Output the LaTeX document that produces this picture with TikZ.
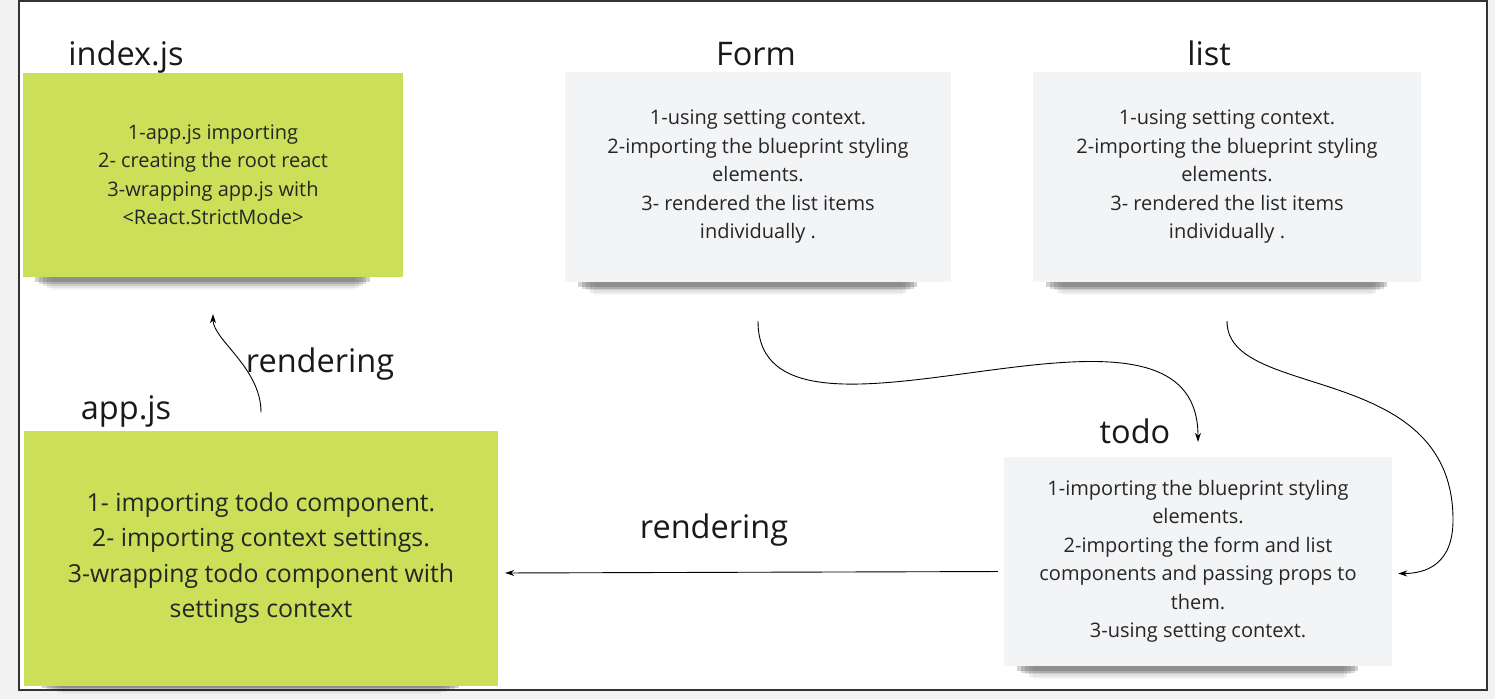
\documentclass[tikz,border=0pt]{standalone}
\usepackage{fontspec}
\setmainfont{Open Sans}
\usepackage{xcolor}
\usepackage{tikz}
\usetikzlibrary{arrows.meta, positioning, shadows}
\definecolor{stickygreen}{RGB}{204, 223, 88}
\definecolor{paperwhite}{RGB}{243, 244, 246}
\definecolor{canvasgray}{RGB}{242, 242, 242}
\definecolor{inkgray}{RGB}{38, 38, 38}

\tikzset{
    note/.style={inner sep=0pt, align=center, text=inkgray, font=\fontsize{20}{28.5}\selectfont,
        general shadow={fill=black, opacity=.04, shadow scale=.80, shadow xshift=-12pt, shadow yshift=-42pt},
        general shadow={fill=black, opacity=.07, shadow scale=.82, shadow xshift=-12pt, shadow yshift=-36pt},
        general shadow={fill=black, opacity=.10, shadow scale=.84, shadow xshift=-12pt, shadow yshift=-30pt},
        general shadow={fill=black, opacity=.14, shadow scale=.86, shadow xshift=-12pt, shadow yshift=-25pt},
        general shadow={fill=black, opacity=.18, shadow scale=.88, shadow xshift=-12pt, shadow yshift=-20pt}},
    greennote/.style={note, fill=stickygreen},
    graynote/.style={note, fill=paperwhite},
    title/.style={anchor=base, text=black!90, font=\fontsize{32.5}{38}\selectfont},
    link/.style={-{Stealth[length=9pt, width=6pt]}, line width=0.9pt, draw=black}
}

\begin{document}
\begin{tikzpicture}[x=1pt, y=-1pt]
    % Canvas and frame
    \fill[canvasgray] (0,0) rectangle (1495,699);
    \draw[line width=1.8pt, draw=black!80, fill=white] (19,1) rectangle (1487,690);

    % Sticky notes
    \node[greennote, minimum width=380pt, minimum height=204pt] (index) at (213,175)
        {1-app.js importing\\2- creating the root react\\3-wrapping app.js with\\ <React.StrictMode>};
    \node[graynote, minimum width=386pt, minimum height=210pt] (form) at (758,177)
        {1-using setting context.\\2-importing the blueprint styling\\elements.\\3- rendered the list items\\individually .};
    \node[graynote, minimum width=388pt, minimum height=210pt] (list) at (1227,177)
        {1-using setting context.\\2-importing the blueprint styling\\elements.\\3- rendered the list items\\individually .};
    \node[greennote, minimum width=474pt, minimum height=255pt, font=\fontsize{24.8}{35.3}\selectfont] (app) at (261,558)
        {1- importing todo component.\\2- importing context settings.\\3-wrapping todo component with\\settings context};
    \node[graynote, minimum width=388pt, minimum height=209pt] (todo) at (1198,561.5)
        {1-importing the blueprint styling\\elements.\\2-importing the form and list\\components and passing props to\\them.\\3-using setting context.};

    % Titles
    \node[title] (indextitle) at (126,65) {index.js};
    \node[title] (formtitle) at (756,65) {Form};
    \node[title] (listtitle) at (1209,65) {list};
    \node[title] (apptitle) at (126,419) {app.js};
    \node[title] (todotitle) at (1135,443) {todo};

    % Connectors
    \draw[link, shorten <=18pt, shorten >=37pt] (app.north) to[out=90, in=-90] (index.south);
    \node[title] (renderup) at (320,372) {rendering};

    \draw[link, shorten <=39pt, shorten >=15pt] (form.south) to[out=-90, in=90, looseness=1.1] (todo.north);

    \coordinate (bend) at (1453,520);
    \draw[link] ([yshift=-39pt]list.south) .. controls +(0,80) and +(0,-160) .. (bend)
        .. controls +(0,45) and +(27,0) .. ([xshift=6pt, yshift=-12pt]todo.east);

    \draw[link, shorten <=6pt, shorten >=7pt] ([yshift=-10pt]todo.west) -- ([yshift=-15pt]app.east);
    \node[title] (renderleft) at (714,538) {rendering};
\end{tikzpicture}
\end{document}
